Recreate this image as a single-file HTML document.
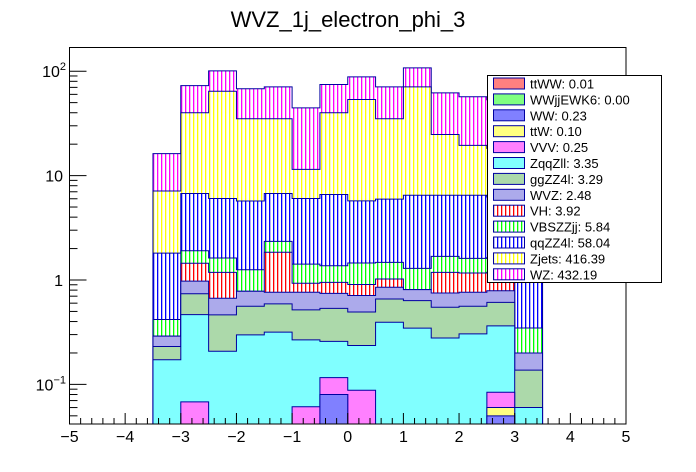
<!DOCTYPE html>
<html><head><meta charset="utf-8">
<style>
html,body{margin:0;padding:0;background:#fff;overflow:hidden;width:696px;height:472px;}
svg{display:block;font-family:"Liberation Sans",Arial,sans-serif;}
</style></head>
<body>
<svg id="chart" width="696" height="472" viewBox="0 0 696 472" xmlns="http://www.w3.org/2000/svg">
<defs>
  <clipPath id="plotclip"><rect x="69.5" y="47.5" width="556.5" height="376.5"/></clipPath>
</defs>
<text x="348" y="27" text-anchor="middle" font-size="22">WVZ_1j_electron_phi_3</text>
<g id="bars" clip-path="url(#plotclip)"></g>
<g id="axes"></g>
<g id="legend"></g>
</svg>
<script>
const binEdgesStart = -3.5;
const binWidth = 0.5;
const seriesNames = ["ttWW","WWjjEWK6","WW","ttW","VVV","ZqqZll","ggZZ4l","WVZ","VH","VBSZZjj","qqZZ4l","Zjets","WZ"];
const legendLabels = ["ttWW: 0.01","WWjjEWK6: 0.00","WW: 0.23","ttW: 0.10","VVV: 0.25","ZqqZll: 3.35","ggZZ4l: 3.29","WVZ: 2.48","VH: 3.92","VBSZZjj: 5.84","qqZZ4l: 58.04","Zjets: 416.39","WZ: 432.19"];
const ttWW    = [0,0,0,0,0,0,0,0,0,0,0,0,0,0];
const WWjj    = [0,0,0,0,0,0,0,0,0,0,0,0,0,0];
const WW      = [0,0,0,0,0,0,0.08,0,0,0,0,0,0.05,0];
const ttW     = [0,0.003,0,0,0,0,0,0.003,0,0,0,0,0.01,0];
const VVV     = [0,0.065,0,0,0,0.061,0.036,0.085,0,0,0,0,0.024,0];
const ZqqZll  = [0.172,0.398,0.208,0.298,0.317,0.206,0.142,0.148,0.394,0.346,0.278,0.305,0.28,0.06];
const ggZZ4l  = [0.059,0.272,0.255,0.263,0.273,0.250,0.277,0.258,0.264,0.288,0.27,0.256,0.246,0.077];
const WVZ     = [0.059,0.237,0.205,0.219,0.173,0.246,0.209,0.217,0.194,0.174,0.203,0.202,0.178,0.063];
const VH      = [0,0.47,0.516,0,1.08,0.167,0.205,0.194,0.17,0,0.433,0.403,0.4,0];
const VBSZZjj = [0.128,0.46,0.44,0.474,0.50,0.49,0.42,0.55,0.454,0.486,0.50,0.445,0.45,0.147];
const qqZZ4l  = [1.39,4.83,4.41,4.46,4.39,4.61,5.22,4.27,4.47,5.19,4.80,4.87,4.6,0.65];
const Zjets   = [5.32,33.3,58.3,29.3,28.3,5.45,33.4,47.8,29.1,64.3,18.3,13.0,12,0.5];
const WZ      = [9.1,32.8,36.4,32.8,35.8,33.1,34.5,34.7,35.8,36.7,37.3,37.4,35,0.8];
const xTickLabels = ["-5","-4","-3","-2","-1","0","1","2","3","4","5"];
const yTickValues = [0.1,1,10,100];

const seriesData = [ttWW,WWjj,WW,ttW,VVV,ZqqZll,ggZZ4l,WVZ,VH,VBSZZjj,qqZZ4l,Zjets,WZ];
const styles = [
 ["check","#ff8080"],["check","#80ff80"],["check","#8080ff"],["check","#ffff80"],["check","#ff80ff"],
 ["check","#80ffff"],["check","#acd9aa"],["check","#acaaeb"],
 ["vline","#ff0000"],["vline","#00ff00"],["vline","#0000ff"],["vline","#ffff00"],["vline","#ff00ff"]];
const NS="http://www.w3.org/2000/svg";
const svg=document.getElementById('chart');
const defs=svg.querySelector('defs');
function X(v){return 69.5+(v+5)*55.65;}
function Y(v){return 280-Math.log10(Math.max(v,1e-6))*104.4;}
const YFLOOR=424;
function mk(tag,attrs,parent){const e=document.createElementNS(NS,tag);for(const k in attrs)e.setAttribute(k,attrs[k]);parent.appendChild(e);return e;}

styles.forEach((s,i)=>{
  const p=mk('pattern',{id:'pat'+i,patternUnits:'userSpaceOnUse',width:4,height:4},defs);
  if(s[0]==='check'){mk('rect',{x:0,y:0,width:4,height:4,fill:s[1]},p);}
  else{mk('rect',{x:0,y:0,width:4,height:4,fill:'#fff'},p);mk('rect',{x:1,y:0,width:1.3,height:4,fill:s[1]},p);}
});

const nb=WZ.length;
const cum=[];let run=new Array(nb).fill(0);
seriesData.forEach((arr,i)=>{run=run.map((r,b)=>r+arr[b]);cum.push(run.slice());});
const bars=document.getElementById('bars');
for(let i=seriesData.length-1;i>=0;i--){
  const c=cum[i];
  let d='M'+X(binEdgesStart)+','+YFLOOR;
  for(let b=0;b<nb;b++){
    const y=c[b]>0?Math.min(Y(c[b]),YFLOOR):YFLOOR;
    d+=' L'+X(binEdgesStart+b*binWidth)+','+y+' L'+X(binEdgesStart+(b+1)*binWidth)+','+y;
  }
  d+=' L'+X(binEdgesStart+nb*binWidth)+','+YFLOOR+' Z';
  const path=mk('path',{d:d,fill:'url(#pat'+i+')',stroke:'#0000a0','stroke-width':1},bars);
  
  
}

const axes=document.getElementById('axes');
const frame=mk('rect',{x:69.5,y:47.5,width:556.5,height:376.5,fill:'none',stroke:'#000','stroke-width':1},axes);


for(let k=0;k<=50;k++){
  const v=-5+k*0.2;const x=X(v);const major=k%5===0;
  mk('line',{x1:x,y1:424,x2:x,y2:major?413:418,stroke:'#000','stroke-width':1},axes);
}
xTickLabels.forEach((t,i)=>{
  const v=parseFloat(t);
  const tx=mk('text',{x:X(v),y:442,'text-anchor':'middle','font-size':16},axes);
  tx.textContent=t.replace('-','\u2212');
  
  
});
for(let e=-2;e<=2;e++){
  for(let m=1;m<=9;m++){
    const v=m*Math.pow(10,e);const y=Y(v);
    if(y<47.5||y>424)continue;
    mk('line',{x1:69.5,y1:y,x2:m===1?86.5:77.5,y2:y,stroke:'#000','stroke-width':1},axes);
  }
}
yTickValues.forEach(v=>{
  const y=Y(v);
  const tx=mk('text',{x:63,y:y+6,'text-anchor':'end','font-size':16},axes);
  
  
  if(v===1)tx.textContent='1';
  else if(v===10)tx.textContent='10';
  else{
    const ex=Math.round(Math.log10(v));
    const a=document.createElementNS(NS,'tspan');a.textContent='10';tx.appendChild(a);
    const b=document.createElementNS(NS,'tspan');b.setAttribute('dy','-7');b.setAttribute('font-size','11');b.textContent=(ex<0?'\u2212':'')+Math.abs(ex);tx.appendChild(b);
    tx.setAttribute('x',66);
  }
});

const leg=document.getElementById('legend');
const box=mk('rect',{x:487.5,y:75.5,width:174,height:207,fill:'#fff',stroke:'#000','stroke-width':1},leg);


legendLabels.forEach((lab,i)=>{
  const cy=83.5+i*15.9;
  const g=mk('g',{},leg);
  
  
  mk('rect',{x:493.5,y:cy-5.5,width:31,height:11,fill:'url(#pat'+i+')',stroke:'#0000a0','stroke-width':1},g);
  const t=mk('text',{x:530,y:cy+5,'font-size':13},g);
  t.textContent=lab;
});
</script>
</body></html>
